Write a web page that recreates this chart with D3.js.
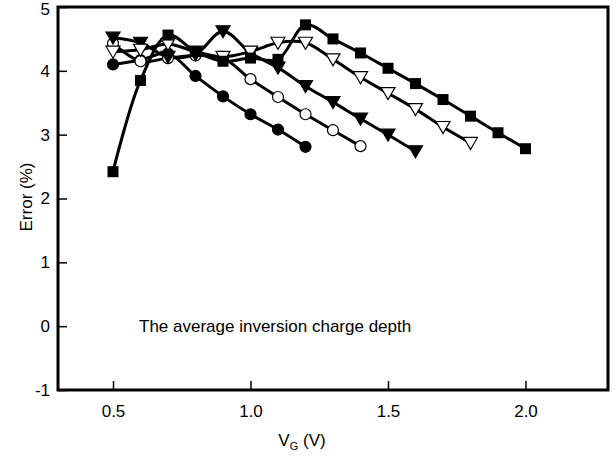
<!DOCTYPE html>
<html><head><meta charset="utf-8">
<script src="https://cdn.jsdelivr.net/npm/d3@7"></script>
<style>body{margin:0;background:#fff}svg{display:block}text{font-family:"Liberation Sans",Arial,sans-serif;fill:#000}</style>
</head><body><svg id="c" width="616" height="459"></svg>
<script>
const xTicks = [0.5, 1.0, 1.5, 2.0];
const yTicks = [-1, 0, 1, 2, 3, 4, 5];
const vgCircleFilled = [0.5,0.6,0.7,0.8,0.9,1.0,1.1,1.2];
const errCircleFilled = [4.10,4.17,4.27,3.92,3.60,3.32,3.08,2.81];
const vgCircleOpen = [0.5,0.6,0.7,0.8,0.9,1.0,1.1,1.2,1.3,1.4];
const errCircleOpen = [4.43,4.15,4.20,4.24,4.20,3.87,3.59,3.32,3.07,2.82];
const vgTriFilled = [0.5,0.6,0.7,0.8,0.9,1.0,1.1,1.2,1.3,1.4,1.5,1.6];
const errTriFilled = [4.52,4.44,4.22,4.26,4.62,4.28,4.05,3.76,3.51,3.25,3.00,2.74];
const vgTriOpen = [0.5,0.6,0.7,0.8,0.9,1.0,1.1,1.2,1.3,1.4,1.5,1.6,1.7,1.8];
const errTriOpen = [4.30,4.33,4.42,4.30,4.22,4.30,4.44,4.44,4.18,3.90,3.65,3.40,3.12,2.87];
const vgSquare = [0.5,0.6,0.7,0.8,0.9,1.0,1.1,1.2,1.3,1.4,1.5,1.6,1.7,1.8,1.9,2.0];
const errSquare = [2.42,3.85,4.56,4.30,4.15,4.20,4.18,4.72,4.50,4.28,4.04,3.80,3.55,3.29,3.03,2.78];

const series = [
  {x: vgCircleFilled, y: errCircleFilled, sym: "circle", fill: "#000"},
  {x: vgCircleOpen, y: errCircleOpen, sym: "circle", fill: "#fff"},
  {x: vgTriFilled, y: errTriFilled, sym: "tri", fill: "#000"},
  {x: vgTriOpen, y: errTriOpen, sym: "tri", fill: "#fff"},
  {x: vgSquare, y: errSquare, sym: "square", fill: "#000"}
];

const svg = d3.select("#c");
const L = 58, R = 608, T = 7, B = 390;
const x = d3.scaleLinear().domain([0.3, 2.3]).range([L, R]);
const y = d3.scaleLinear().domain([-1, 5]).range([B, T]);

const line = d3.line().x(d => x(d[0])).y(d => y(d[1])).curve(d3.curveCatmullRom.alpha(0.5));
series.forEach(s => {
  const pts = s.x.map((v, i) => [v, s.y[i]]);
  svg.append("path").attr("d", line(pts)).attr("fill", "none").attr("stroke", "#000").attr("stroke-width", 3);
});
series.forEach(s => {
  const pts = s.x.map((v, i) => [v, s.y[i]]);
  const g = svg.append("g");
  pts.forEach(p => {
    const cx = x(p[0]), cy = y(p[1]);
    if (s.sym === "circle") {
      g.append("circle").attr("cx", cx).attr("cy", cy).attr("r", 5.5).attr("fill", s.fill).attr("stroke", "#000").attr("stroke-width", 1.2);
    } else if (s.sym === "square") {
      g.append("rect").attr("x", cx - 5.5).attr("y", cy - 5.5).attr("width", 11).attr("height", 11).attr("fill", "#000");
    } else {
      g.append("path").attr("d", `M${cx-7},${cy-5.5}L${cx+7},${cy-5.5}L${cx},${cy+6.5}Z`).attr("fill", s.fill).attr("stroke", "#000").attr("stroke-width", 1.2);
    }
  });
});

svg.append("rect").attr("x", L).attr("y", T).attr("width", R - L).attr("height", B - T).attr("fill", "none").attr("stroke", "#000").attr("stroke-width", 3);

const xa = svg.append("g").attr("transform", `translate(0,${B})`)
  .call(d3.axisBottom(x).tickValues(xTicks).tickFormat(d3.format(".1f")).tickSizeInner(-9).tickSizeOuter(0).tickPadding(15));
const ya = svg.append("g").attr("transform", `translate(${L},0)`)
  .call(d3.axisLeft(y).tickValues(yTicks).tickFormat(d => d).tickSizeInner(-9).tickSizeOuter(0).tickPadding(15));
[xa, ya].forEach(a => {
  a.select(".domain").remove();
  a.selectAll(".tick line").attr("stroke", "#000").attr("stroke-width", 1.5);
  a.selectAll(".tick text").attr("font-size", 17).attr("font-family", "Liberation Sans, Arial, sans-serif");
});
ya.selectAll(".tick text").attr("x", -8);
ya.selectAll(".tick").filter(d => d === 5).select("text").attr("dy", "0.32em").attr("y", 2);

svg.append("text").attr("transform", `translate(32,197) rotate(-90)`).attr("text-anchor", "middle").attr("font-size", 17).text("Error (%)");
const xt = svg.append("text").attr("x", 302).attr("y", 446).attr("text-anchor", "middle").attr("font-size", 17);
xt.append("tspan").text("V");
xt.append("tspan").attr("font-size", 11).attr("dy", 4).text("G");
xt.append("tspan").attr("dy", -4).text(" (V)");
svg.append("text").attr("x", 139).attr("y", 332).attr("font-size", 17).text("The average inversion charge depth");
</script></body></html>
